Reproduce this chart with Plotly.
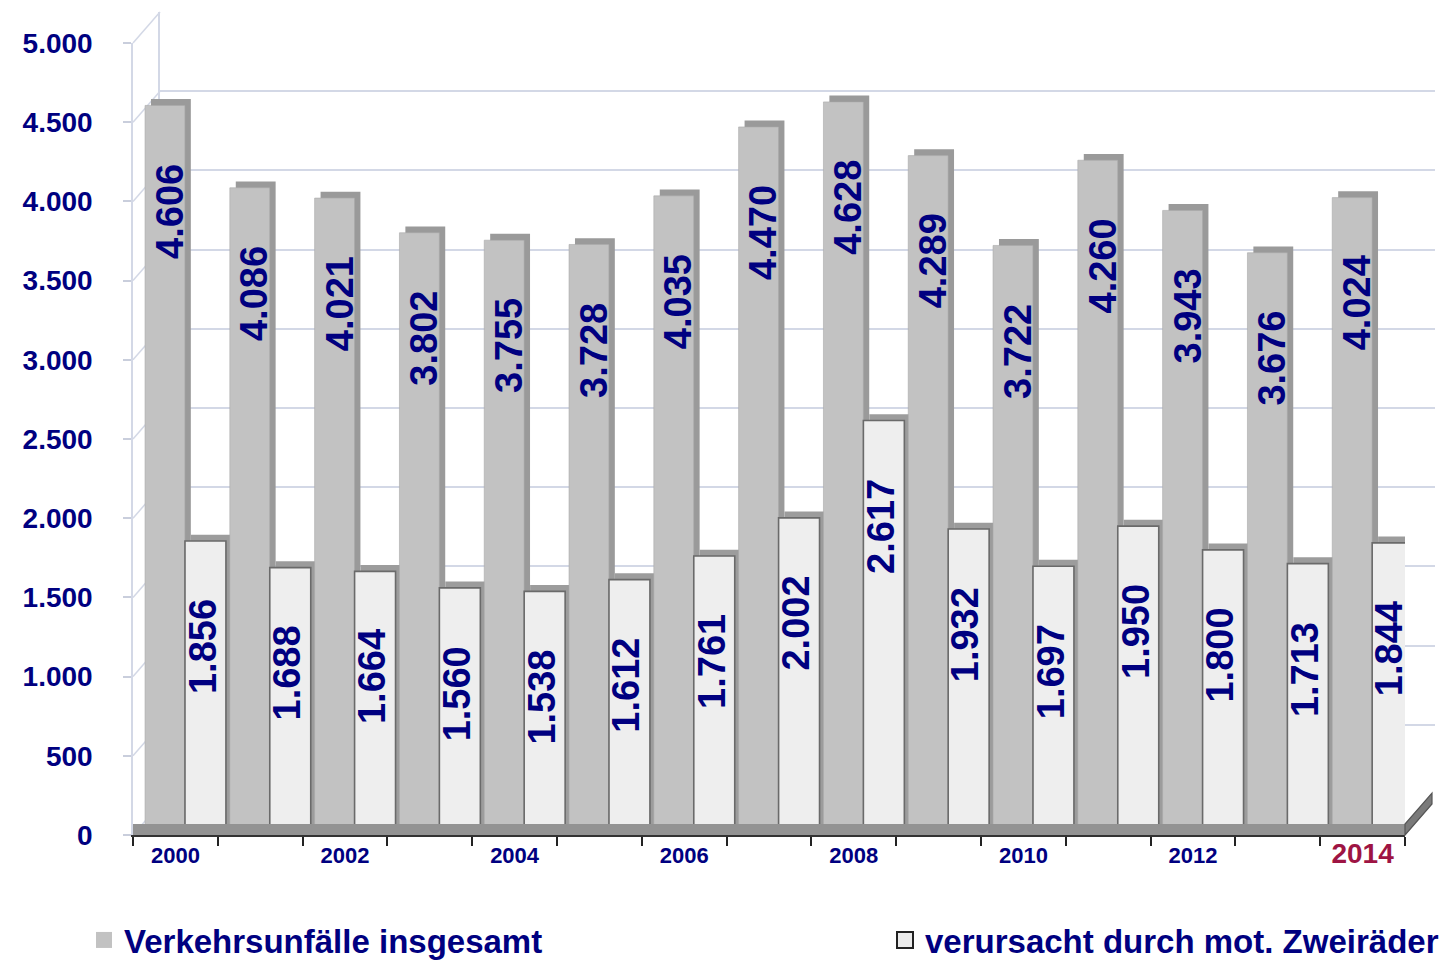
import plotly.graph_objects as go

# ---------------- data ----------------
years = [str(y) for y in range(2000, 2015)]
total = [4606, 4086, 4021, 3802, 3755, 3728, 4035, 4470, 4628, 4289, 3722, 4260, 3943, 3676, 4024]
moto = [1856, 1688, 1664, 1560, 1538, 1612, 1761, 2002, 2617, 1932, 1697, 1950, 1800, 1713, 1844]
y_ticks = [0, 500, 1000, 1500, 2000, 2500, 3000, 3500, 4000, 4500, 5000]
name_total = "Verkehrsunfälle insgesamt"
name_moto = "verursacht durch mot. Zweiräder"

# ---------------- layout constants (pixels) ----------------
W, H = 1450, 962
L, R, T, B = 133, 1435, 12, 835       # full plot area (incl. back wall)
PW, PH = R - L, B - T
FRONT_R = 1405                          # right end of front (bar) plane
FRONT_T = 43                            # y pixel of 5000 on front plane
DX, DY = 27, 31                         # depth offset of back wall

def px(x):
    return (x - L) / PW

def py(y):
    return (B - y) / PH

NAVY = "#000080"
FONT = "Liberation Sans, Arial, sans-serif"
GRID = "#D3D8E6"

xs = list(range(len(years)))
fmt = lambda v: f"{v:,}".replace(",", ".")

fig = go.Figure()

# back-wall grid subplot (x / y) – drawn first, below bars
fig.add_trace(go.Scatter(x=[None], y=[None], xaxis="x", yaxis="y",
                         showlegend=False, hoverinfo="skip"))

# depth (side + top faces)
fig.add_trace(go.Bar(x=xs, y=total, base=40, offset=-0.358 + 0.07, width=0.47,
                     marker=dict(color="#9A9A9A", line=dict(width=0)),
                     xaxis="x2", yaxis="y2", showlegend=False, hoverinfo="skip"))
fig.add_trace(go.Bar(x=xs, y=moto, base=40, offset=0.113 + 0.07, width=0.483,
                     marker=dict(color="#9C9C9C", line=dict(width=0)),
                     xaxis="x2", yaxis="y2", showlegend=False, hoverinfo="skip"))
# front faces
fig.add_trace(go.Bar(x=xs, y=total, offset=-0.358, width=0.47, name=name_total,
                     marker=dict(color="#C2C2C2", line=dict(width=0.6, color="#AAAAAA")),
                     xaxis="x2", yaxis="y2", showlegend=False))
fig.add_trace(go.Bar(x=xs, y=moto, offset=0.113, width=0.483, name=name_moto,
                     marker=dict(color="#EEEEEE", line=dict(width=1.6, color="#6A6A6A")),
                     xaxis="x2", yaxis="y2", showlegend=False))

# legend entries (square symbols)
fig.add_trace(go.Scatter(x=[None], y=[None], mode="markers", name=name_total,
                         marker=dict(symbol="square", size=16, color="#C2C2C2",
                                     line=dict(width=0)),
                         xaxis="x2", yaxis="y2", legend="legend"))
fig.add_trace(go.Scatter(x=[None], y=[None], mode="markers", name=name_moto,
                         marker=dict(symbol="square", size=16, color="#EBEBEB",
                                     line=dict(width=2, color="#222222")),
                         xaxis="x2", yaxis="y2", legend="legend2"))

# value labels
ann = []
for i, v in enumerate(total):
    ann.append(dict(x=i - 0.064, y=v, xref="x2", yref="y2", text=fmt(v), textangle=-90,
                    showarrow=False, yanchor="top", xanchor="center", yshift=-56,
                    font=dict(family=FONT, size=38, color=NAVY, weight="bold")))
for i, v in enumerate(moto):
    ann.append(dict(x=i + 0.32, y=v, xref="x2", yref="y2", text=fmt(v), textangle=-90,
                    showarrow=False, yanchor="top", xanchor="center", yshift=-56,
                    font=dict(family=FONT, size=38, color=NAVY, weight="bold")))

# shapes: wall diagonals and floor
shapes = []
scale = (B - FRONT_T) / max(y_ticks)
for v in y_ticks:
    yp = B - v * scale
    shapes.append(dict(type="line", xref="paper", yref="paper",
                       x0=px(L), y0=py(yp), x1=px(L + DX), y1=py(yp - DY),
                       line=dict(color=GRID, width=1.5), layer="below"))
# floor front band
shapes.append(dict(type="rect", xref="paper", yref="paper",
                   x0=px(L), x1=px(FRONT_R), y0=py(B), y1=py(B - 11),
                   fillcolor="#939393", line=dict(width=0), layer="above"))
# floor right slant
path = (f"M {px(FRONT_R)},{py(B)} L {px(FRONT_R + DX)},{py(B - DY)} "
        f"L {px(FRONT_R + DX)},{py(B - DY - 11)} L {px(FRONT_R)},{py(B - 11)} Z")
shapes.append(dict(type="path", xref="paper", yref="paper", path=path,
                   fillcolor="#7A7A7A", line=dict(color="#555555", width=1.2), layer="above"))

ticktext = [(y if int(y) % 2 == 0 else "") for y in years]
ticktext = [("<span style='color:#9E1443;font-size:28px'>" + t + "</span>") if t == years[-1] else t
            for t in ticktext]

fig.update_layout(
    width=W, height=H,
    margin=dict(l=L, r=W - R, t=T, b=H - B, autoexpand=False),
    paper_bgcolor="white", plot_bgcolor="rgba(0,0,0,0)",
    separators=",.",
    barmode="overlay",
    font=dict(family=FONT, color=NAVY),
    xaxis=dict(domain=[px(L + DX), 1], range=[0, 1], visible=False, fixedrange=True),
    yaxis=dict(domain=[py(B - DY), 1], range=[0, max(y_ticks)], tickvals=y_ticks,
               showgrid=True, gridcolor=GRID, gridwidth=2, showticklabels=False,
               zeroline=False, showline=True, linecolor=GRID, linewidth=1.5, ticks=""),
    xaxis2=dict(domain=[0, px(FRONT_R)], range=[-0.5, len(years) - 0.5], anchor="y2",
                tickvals=xs, ticktext=ticktext, ticks="",
                tickfont=dict(family=FONT, size=22, color=NAVY, weight="bold"),
                showline=True, linecolor="#333333", linewidth=2, showgrid=False, zeroline=False,
                minor=dict(tick0=-0.5, dtick=1, ticks="outside", ticklen=9,
                           tickwidth=2, tickcolor="#222222", showgrid=False)),
    yaxis2=dict(domain=[0, py(FRONT_T)], range=[0, max(y_ticks)], anchor="x2",
                tickvals=y_ticks, tickformat=",d", showgrid=False, zeroline=False,
                ticks="outside", ticklen=8, tickcolor="#C9CEDC", tickwidth=1.5,
                showline=True, linecolor=GRID, linewidth=1.5, ticklabelstandoff=25,
                tickfont=dict(family=FONT, size=28, color=NAVY, weight="bold")),
    legend=dict(x=px(84), y=py(940), xanchor="left", yanchor="middle",
                orientation="h", bgcolor="rgba(0,0,0,0)", itemwidth=30,
                font=dict(family=FONT, size=33, color=NAVY, weight="bold")),
    legend2=dict(x=px(885), y=py(940), xanchor="left", yanchor="middle",
                 orientation="h", bgcolor="rgba(0,0,0,0)", itemwidth=30,
                 font=dict(family=FONT, size=33, color=NAVY, weight="bold")),
    annotations=ann,
    shapes=shapes,
)

fig.write_html("out.html", config={"displayModeBar": False},
               post_script="document.body.style.margin='0';")
